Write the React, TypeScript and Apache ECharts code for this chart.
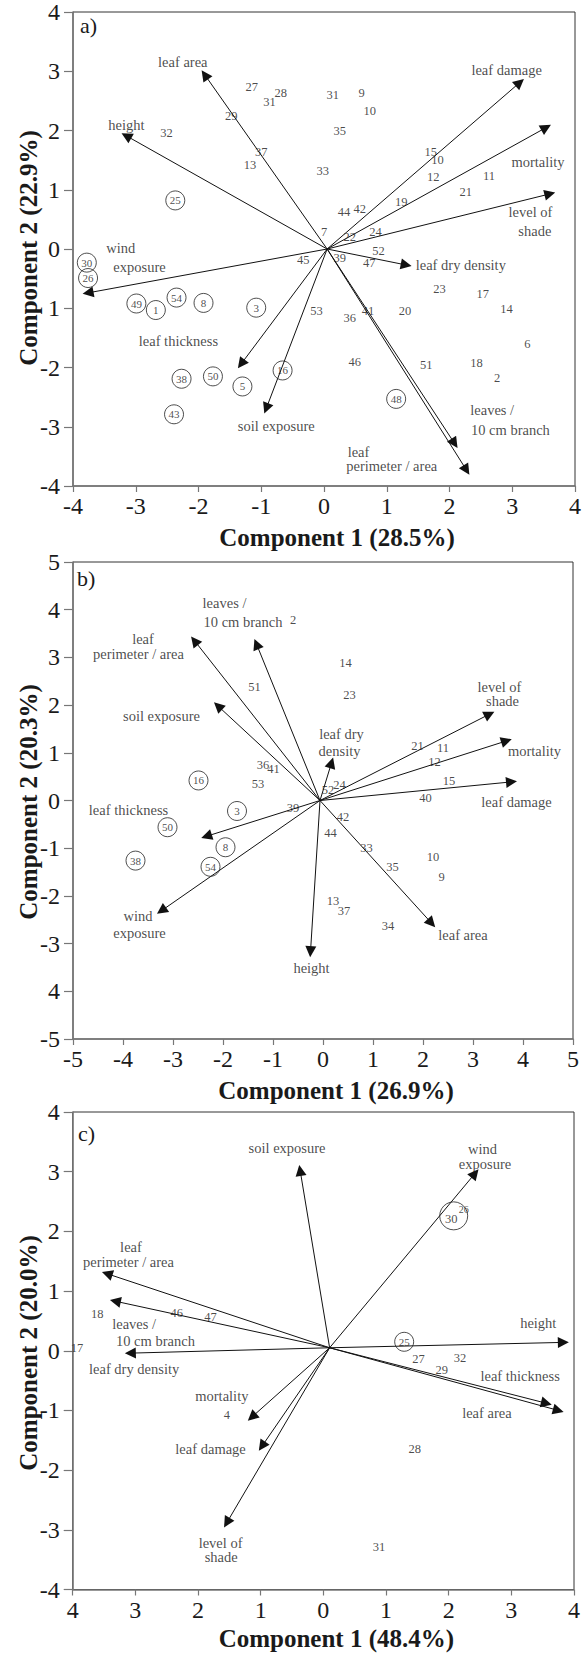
import React, { useEffect, useRef } from "react";
import * as echarts from "echarts";

const FONT = '"Liberation Serif", "Times New Roman", serif';

// ---------- Panel a ----------
const aXTicks = ["-4", "-3", "-2", "-1", "0", "1", "2", "3", "4"];
const aYTicks = ["-4", "-3", "-2", "1", "0", "1", "2", "3", "4"];
const aOrigin: [number, number] = [0.05, 0];
const aArrowEnds: [string, number, number][] = [
  ["leaf area", -1.9, 2.94],
  ["height", -3.15, 1.91],
  ["wind exposure", -3.76, -0.74],
  ["leaf thickness", -1.32, -1.94],
  ["soil exposure", -0.92, -2.69],
  ["leaf damage", 3.12, 2.81],
  ["mortality", 3.54, 2.05],
  ["level of shade", 3.6, 0.93],
  ["leaf dry density", 1.31, -0.27],
  ["leaves / 10 cm branch", 2.08, -3.28],
  ["leaf perimeter / area", 2.27, -3.73],
];
const aArrowLabels: [string, number, number][] = [
  ["leaf area", -2.25, 3.16],
  ["height", -3.15, 2.09],
  ["wind", -3.24, 0.01],
  ["exposure", -2.94, -0.31],
  ["leaf thickness", -2.32, -1.55],
  ["soil exposure", -0.76, -2.99],
  ["leaf damage", 2.91, 3.02],
  ["mortality", 3.41, 1.47],
  ["level of", 3.29, 0.62],
  ["shade", 3.36, 0.3],
  ["leaf dry density", 2.18, -0.27],
  ["leaves /", 2.68, -2.72],
  ["10 cm branch", 2.97, -3.06],
  ["leaf", 0.55, -3.42],
  ["perimeter / area", 1.08, -3.66],
];
const aSamples: [string, number, number][] = [
  ["27", -1.15, 2.73], ["28", -0.69, 2.64], ["31", -0.87, 2.48], ["29", -1.48, 2.25],
  ["37", -1.0, 1.64], ["13", -1.18, 1.41], ["32", -2.51, 1.95], ["31", 0.14, 2.6],
  ["9", 0.6, 2.64], ["10", 0.73, 2.33], ["35", 0.25, 1.99], ["33", -0.02, 1.31],
  ["15", 1.7, 1.64], ["10", 1.81, 1.51], ["12", 1.74, 1.21], ["11", 2.63, 1.23],
  ["21", 2.26, 0.96], ["19", 1.23, 0.79], ["44", 0.32, 0.62], ["42", 0.57, 0.67],
  ["7", 0.0, 0.29], ["22", 0.41, 0.21], ["24", 0.82, 0.29], ["45", -0.33, -0.18],
  ["39", 0.25, -0.16], ["52", 0.87, -0.04], ["47", 0.72, -0.24], ["23", 1.84, -0.67],
  ["17", 2.53, -0.76], ["14", 2.91, -1.02], ["53", -0.12, -1.05], ["36", 0.41, -1.16],
  ["41", 0.7, -1.04], ["20", 1.29, -1.05], ["6", 3.24, -1.6], ["46", 0.49, -1.9],
  ["51", 1.63, -1.95], ["18", 2.43, -1.93], ["2", 2.76, -2.18],
];
const aCircled: [string, number, number][] = [
  ["25", -2.37, 0.82], ["30", -3.78, -0.23], ["26", -3.76, -0.49], ["49", -2.99, -0.92],
  ["1", -2.68, -1.03], ["54", -2.35, -0.82], ["8", -1.92, -0.91], ["3", -1.08, -0.99],
  ["38", -2.27, -2.19], ["50", -1.77, -2.15], ["5", -1.3, -2.32], ["16", -0.66, -2.05],
  ["43", -2.39, -2.79], ["48", 1.15, -2.53],
];

// ---------- Panel b ----------
const bXTicks = ["-5", "-4", "-3", "-2", "-1", "0", "1", "2", "3", "4", "5"];
const bYTicks = ["-5", "4", "-3", "-2", "-1", "0", "1", "2", "3", "4", "5"];
const bOrigin: [number, number] = [-0.06, 0];
const bArrowEnds: [string, number, number][] = [
  ["leaves / 10 cm branch", -1.33, 3.28],
  ["leaf perimeter / area", -2.57, 3.35],
  ["soil exposure", -2.1, 1.98],
  ["leaf thickness", -2.33, -0.75],
  ["wind exposure", -3.23, -2.31],
  ["height", -0.25, -3.17],
  ["leaf area", 2.17, -2.57],
  ["leaf damage", 3.77, 0.39],
  ["mortality", 3.67, 1.25],
  ["level of shade", 3.33, 1.81],
  ["leaf dry density", 0.17, 0.79],
];
const bArrowLabels: [string, number, number][] = [
  ["leaves /", -1.97, 4.15],
  ["10 cm branch", -1.6, 3.75],
  ["leaf", -3.6, 3.38],
  ["perimeter / area", -3.69, 3.07],
  ["soil exposure", -3.23, 1.77],
  ["leaf thickness", -3.89, -0.19],
  ["wind", -3.7, -2.43],
  ["exposure", -3.67, -2.78],
  ["height", -0.23, -3.51],
  ["leaf area", 2.8, -2.82],
  ["leaf damage", 3.87, -0.03],
  ["mortality", 4.23, 1.04],
  ["level of", 3.53, 2.37],
  ["shade", 3.59, 2.09],
  ["leaf dry", 0.37, 1.39],
  ["density", 0.33, 1.04],
];
const bSamples: [string, number, number][] = [
  ["2", -0.6, 3.78], ["51", -1.37, 2.38], ["14", 0.45, 2.88], ["23", 0.53, 2.21],
  ["36", -1.2, 0.74], ["41", -0.99, 0.65], ["53", -1.3, 0.34], ["39", -0.6, -0.15],
  ["21", 1.89, 1.14], ["11", 2.4, 1.11], ["12", 2.23, 0.81], ["15", 2.52, 0.41],
  ["40", 2.05, 0.06], ["52", 0.1, 0.23], ["24", 0.33, 0.33], ["42", 0.4, -0.35],
  ["44", 0.15, -0.68], ["33", 0.87, -0.99], ["35", 1.39, -1.39], ["10", 2.2, -1.19],
  ["9", 2.37, -1.61], ["13", 0.2, -2.11], ["37", 0.42, -2.31], ["34", 1.3, -2.64],
];
const bCircled: [string, number, number][] = [
  ["16", -2.49, 0.42], ["3", -1.72, -0.22], ["50", -3.11, -0.56],
  ["38", -3.75, -1.26], ["8", -1.95, -0.98], ["54", -2.25, -1.39],
];

// ---------- Panel c ----------
const cXTicks = ["4", "3", "2", "1", "0", "1", "2", "3", "4"];
const cYTicks = ["-4", "-3", "-2", "-1", "0", "1", "2", "3", "4"];
const cOrigin: [number, number] = [0.1, 0.05];
const cArrowEnds: [string, number, number][] = [
  ["soil exposure", -0.37, 3.02],
  ["wind exposure", 2.42, 2.97],
  ["height", 3.83, 0.14],
  ["leaf thickness", 3.56, -0.88],
  ["leaf area", 3.75, -1.0],
  ["leaf perimeter / area", -3.45, 1.29],
  ["leaves / 10 cm branch", -3.32, 0.83],
  ["leaf dry density", -3.08, -0.04],
  ["mortality", -1.14, -1.11],
  ["leaf damage", -0.98, -1.6],
  ["level of shade", -1.54, -2.88],
];
const cArrowLabels: [string, number, number][] = [
  ["soil exposure", -0.58, 3.39],
  ["wind", 2.54, 3.38],
  ["exposure", 2.58, 3.13],
  ["height", 3.43, 0.47],
  ["leaf thickness", 3.14, -0.43],
  ["leaf area", 2.61, -1.05],
  ["leaf", -3.07, 1.73],
  ["perimeter / area", -3.11, 1.49],
  ["leaves /", -3.02, 0.44],
  ["10 cm branch", -2.68, 0.16],
  ["leaf dry density", -3.02, -0.31],
  ["mortality", -1.62, -0.75],
  ["leaf damage", -1.8, -1.65],
  ["level of", -1.64, -3.22],
  ["shade", -1.63, -3.46],
];
const cSamples: [string, number, number][] = [
  ["27", 1.52, -0.13], ["32", 2.18, -0.12], ["29", 1.89, -0.33], ["28", 1.46, -1.65],
  ["31", 0.89, -3.29], ["18", -3.61, 0.61], ["46", -2.34, 0.64], ["47", -1.8, 0.57],
  ["17", -3.93, 0.04], ["4", -1.54, -1.07], ["30", 2.04, 2.21],
];
const cSmallSamples: [string, number, number][] = [["26", 2.24, 2.36]];
const cCircled: [string, number, number][] = [["25", 1.29, 0.15]];
const cBigCircles: [number, number][] = [[2.08, 2.26]];

const panels = [
  {
    grid: { left: 73, top: 8, width: 502, height: 478 },
    xMin: -4, xMax: 4, yMin: -4, yMax: 4,
    xTicks: aXTicks, yTicks: aYTicks, origin: aOrigin,
    arrows: aArrowEnds, arrowLabels: aArrowLabels, samples: aSamples,
    circled: aCircled, small: [] as [string, number, number][], big: [] as [number, number][],
    tag: "a)", tagPos: [80, 25], xTitle: "Component 1 (28.5%)", xTitleY: 537,
    yTitle: "Component 2 (22.9%)", yTitleY: 248,
  },
  {
    grid: { left: 73, top: 562, width: 500, height: 477 },
    xMin: -5, xMax: 5, yMin: -5, yMax: 5,
    xTicks: bXTicks, yTicks: bYTicks, origin: bOrigin,
    arrows: bArrowEnds, arrowLabels: bArrowLabels, samples: bSamples,
    circled: bCircled, small: [] as [string, number, number][], big: [] as [number, number][],
    tag: "b)", tagPos: [77, 578], xTitle: "Component 1 (26.9%)", xTitleY: 1090,
    yTitle: "Component 2 (20.3%)", yTitleY: 802,
  },
  {
    grid: { left: 72.7, top: 1112, width: 501.3, height: 477.5 },
    xMin: -4, xMax: 4, yMin: -4, yMax: 4,
    xTicks: cXTicks, yTicks: cYTicks, origin: cOrigin,
    arrows: cArrowEnds, arrowLabels: cArrowLabels, samples: cSamples,
    circled: cCircled, small: cSmallSamples, big: cBigCircles,
    tag: "c)", tagPos: [78, 1133], xTitle: "Component 1 (48.4%)", xTitleY: 1638,
    yTitle: "Component 2 (20.0%)", yTitleY: 1353,
  },
];

const AXIS_COLOR = "#777";
const TEXT_COLOR = "#1a1a1a";

function textSeries(i: number, items: [string, number, number][], fontSize: number) {
  return {
    type: "scatter",
    xAxisIndex: i,
    yAxisIndex: i,
    symbolSize: 1,
    silent: true,
    z: 5,
    itemStyle: { color: "rgba(0,0,0,0)" },
    label: {
      show: true,
      position: "inside",
      formatter: "{b}",
      fontSize,
      fontFamily: FONT,
      color: TEXT_COLOR,
    },
    emphasis: { disabled: true },
    data: items.map(([n, x, y]) => ({ name: n, value: [x, y] })),
  };
}

export default function App() {
  const ref = useRef<HTMLDivElement>(null);
  useEffect(() => {
    if (!ref.current) return;
    const chart = echarts.init(ref.current, undefined, { renderer: "svg" });

    const grids = panels.map((p) => ({
      ...p.grid,
      show: true,
      borderColor: "#333",
      borderWidth: 1,
      backgroundColor: "transparent",
      containLabel: false,
    }));

    const xAxes = panels.map((p, i) => ({
      type: "value",
      gridIndex: i,
      min: p.xMin,
      max: p.xMax,
      interval: 1,
      axisLine: { show: true, onZero: false, lineStyle: { color: AXIS_COLOR, width: 1.5 } },
      axisTick: { show: true, inside: false, length: 6, lineStyle: { color: AXIS_COLOR, width: 1.2 } },
      axisLabel: {
        fontSize: 24,
        fontFamily: FONT,
        color: TEXT_COLOR,
        margin: 8,
        formatter: (v: number) => p.xTicks[Math.round(v - p.xMin)] ?? "",
      },
      splitLine: { show: false },
    }));

    const yAxes = panels.map((p, i) => ({
      type: "value",
      gridIndex: i,
      min: p.yMin,
      max: p.yMax,
      interval: 1,
      axisLine: { show: true, onZero: false, lineStyle: { color: AXIS_COLOR, width: 1.5 } },
      axisTick: { show: true, inside: false, length: 9, lineStyle: { color: AXIS_COLOR, width: 1.2 } },
      axisLabel: {
        fontSize: 24,
        fontFamily: FONT,
        color: TEXT_COLOR,
        margin: 13,
        formatter: (v: number) => p.yTicks[Math.round(v - p.yMin)] ?? "",
      },
      splitLine: { show: false },
    }));

    const series: any[] = [];
    panels.forEach((p, i) => {
      series.push({
        type: "lines",
        coordinateSystem: "cartesian2d",
        xAxisIndex: i,
        yAxisIndex: i,
        silent: true,
        z: 3,
        symbol: ["none", "triangle"],
        symbolSize: [8, 11],
        lineStyle: { color: "#111", width: 1, opacity: 1 },
        data: p.arrows.map(([n, x, y]) => ({ name: n, coords: [p.origin, [x, y]] })),
      });
      series.push(textSeries(i, p.arrowLabels, 14.5));
      series.push(textSeries(i, p.samples, 12.5));
      if (p.small.length) series.push(textSeries(i, p.small, 10));
      series.push({
        type: "scatter",
        xAxisIndex: i,
        yAxisIndex: i,
        symbol: "circle",
        symbolSize: 19,
        silent: true,
        z: 5,
        itemStyle: { color: "rgba(255,255,255,0)", borderColor: "#222", borderWidth: 1 },
        label: {
          show: true,
          position: "inside",
          formatter: "{b}",
          fontSize: 11,
          fontFamily: FONT,
          color: TEXT_COLOR,
        },
        emphasis: { disabled: true },
        data: p.circled.map(([n, x, y]) => ({ name: n, value: [x, y] })),
      });
      if (p.big.length) {
        series.push({
          type: "scatter",
          xAxisIndex: i,
          yAxisIndex: i,
          symbol: "circle",
          symbolSize: 28,
          silent: true,
          z: 5,
          itemStyle: { color: "rgba(255,255,255,0)", borderColor: "#222", borderWidth: 1 },
          emphasis: { disabled: true },
          data: p.big.map(([x, y]) => [x, y]),
        });
      }
    });

    const graphic: any[] = [];
    panels.forEach((p) => {
      const cx = p.grid.left + p.grid.width / 2 + 13;
      graphic.push({
        type: "text",
        x: p.tagPos[0],
        y: p.tagPos[1],
        style: {
          text: p.tag,
          fontSize: 22,
          fontFamily: FONT,
          fill: TEXT_COLOR,
          textAlign: "left",
          textVerticalAlign: "middle",
          align: "left",
          verticalAlign: "middle",
        },
      });
      graphic.push({
        type: "text",
        x: cx,
        y: p.xTitleY,
        style: {
          text: p.xTitle,
          fontSize: 25,
          fontWeight: "bold",
          fontFamily: FONT,
          fill: TEXT_COLOR,
          textAlign: "center",
          textVerticalAlign: "middle",
          align: "center",
          verticalAlign: "middle",
        },
      });
      graphic.push({
        type: "text",
        x: 28,
        y: p.yTitleY,
        rotation: Math.PI / 2,
        style: {
          text: p.yTitle,
          fontSize: 25,
          fontWeight: "bold",
          fontFamily: FONT,
          fill: TEXT_COLOR,
          textAlign: "center",
          textVerticalAlign: "middle",
          align: "center",
          verticalAlign: "middle",
        },
      });
    });

    chart.setOption({
      animation: false,
      backgroundColor: "#ffffff",
      grid: grids,
      xAxis: xAxes,
      yAxis: yAxes,
      series,
      graphic,
    });
    return () => chart.dispose();
  }, []);

  return (
    <div
      ref={ref}
      style={{ position: "absolute", left: 0, top: 0, width: 587, height: 1654, background: "#fff" }}
    />
  );
}
